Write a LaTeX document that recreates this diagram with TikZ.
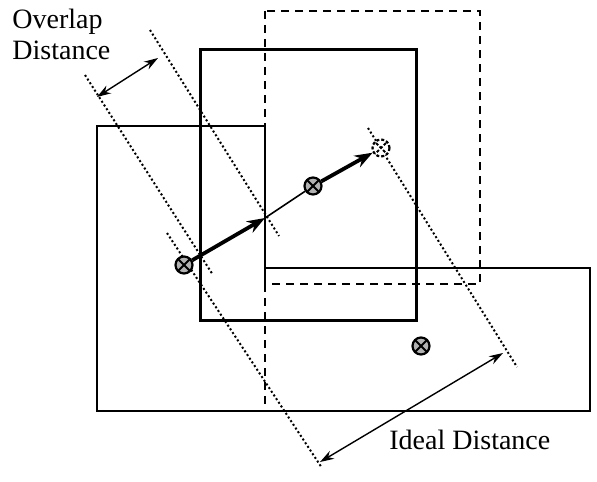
\documentclass[tikz,border=0pt]{standalone}
\usepackage{fontspec}
\setmainfont{Liberation Serif}
\usetikzlibrary{arrows.meta,positioning}

\tikzset{
  centermark/.style={circle,draw,line width=1.1pt,fill=gray!60,minimum size=8.5pt,inner sep=0pt,
    path picture={\draw[line width=1pt] (path picture bounding box.north west)--(path picture bounding box.south east)
      (path picture bounding box.north east)--(path picture bounding box.south west);}},
  idealmark/.style={centermark,fill=white,dashed,dash pattern=on 1.5pt off 1pt},
  guide/.style={line width=1pt,dash pattern=on 1pt off 1.2pt},
  measure/.style={line width=0.7pt,{Stealth[length=7pt,width=4.5pt]}-{Stealth[length=7pt,width=4.5pt]}},
  movearrow/.style={line width=1.9pt,-{Stealth[length=9pt,width=6.5pt]}}
}

\begin{document}
\begin{tikzpicture}[x=0.5pt,y=-0.5pt,font=\fontsize{14}{15.5}\selectfont]
  \useasboundingbox (0,0) rectangle (597,481);

  \draw[line width=0.6pt] (265,268) -- (265,126) -- (97,126) -- (97,411) -- (590,411) -- (590,268) -- (265,268) -- (265,284);
  \draw[line width=0.6pt,dashed,dash pattern=on 4pt off 3pt] (265,284) -- (265,411);
  \draw[line width=0.6pt,dashed,dash pattern=on 4pt off 3pt] (265,11) rectangle (480,284);
  \draw[line width=1.5pt] (200,50) rectangle (416,320);

  \draw[guide] (85,75) -- (213,275);
  \draw[guide] (167,233) -- (322,468);
  \draw[guide] (150,30) -- (279,236);
  \draw[guide] (368,128) -- (517,367);

  \node[centermark] (leftc) at (184,265) {};
  \node[centermark] (movec) at (313,186) {};
  \node[centermark] (lowc) at (421,346) {};
  \node[idealmark] (idealc) at (381,148) {};
  \coordinate (exitpt) at (265,218);

  \draw[movearrow] (leftc) -- (exitpt);
  \draw[line width=0.8pt] (exitpt) -- (movec);
  \draw[movearrow] (movec) -- (idealc);

  \coordinate (olapa) at (97,97);
  \coordinate (olapb) at (158,58);
  \draw[measure] (olapa) -- (olapb);
  \coordinate (ideala) at (320,462);
  \coordinate (idealb) at (503,353);
  \draw[measure] (ideala) -- (idealb);

  \node[anchor=north west,align=left,inner sep=0pt] (olaptxt) at (12,9) {Overlap\\Distance};
  \node[anchor=west,inner sep=0pt] (idealtxt) at (389,440) {Ideal Distance};
\end{tikzpicture}
\end{document}
